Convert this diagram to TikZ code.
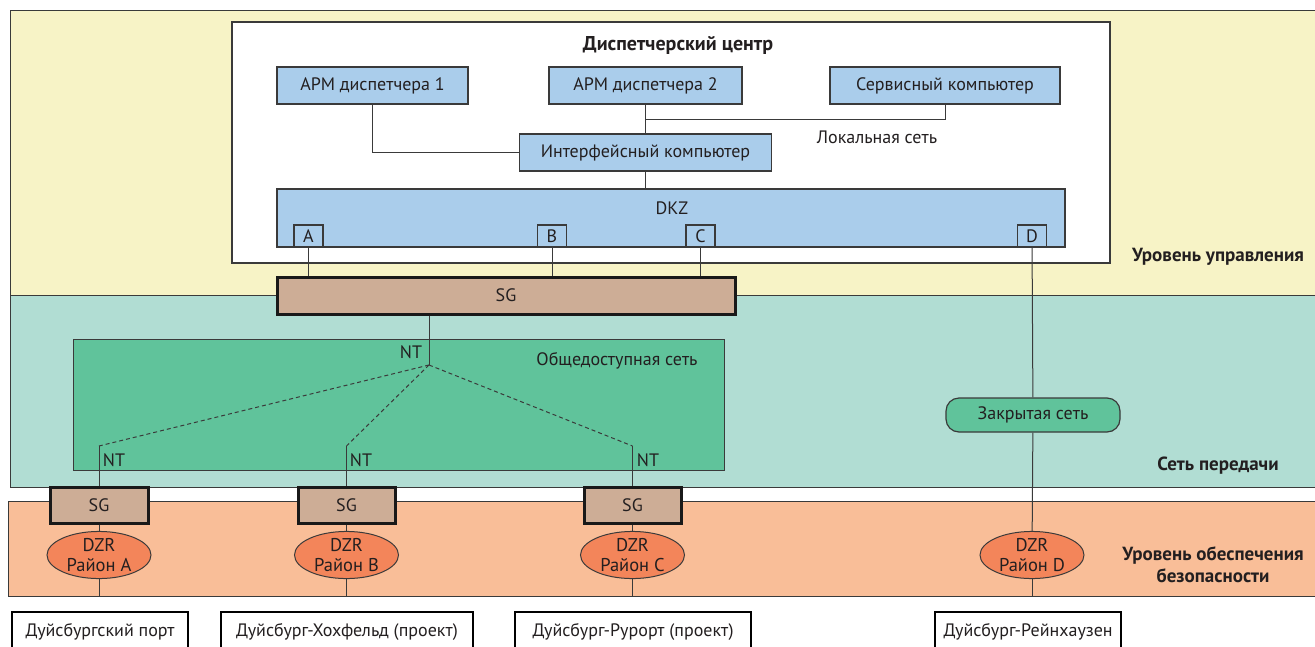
\documentclass[tikz,border=0pt]{standalone}
\usepackage{fontspec}
\setmainfont{PT Sans}
\usetikzlibrary{shapes.geometric}

\definecolor{yellowband}{HTML}{F7F3C6}
\definecolor{tealband}{HTML}{B1DDD3}
\definecolor{orangeband}{HTML}{F9BE98}
\definecolor{boxblue}{HTML}{AACDEB}
\definecolor{sgbrown}{HTML}{CDAD96}
\definecolor{netgreen}{HTML}{60C39B}
\definecolor{dzrorange}{HTML}{F3855A}
\definecolor{linegray}{HTML}{3A3A3A}
\definecolor{textgray}{HTML}{231F20}

\begin{document}
\begin{tikzpicture}[x=1pt,y=-1pt,text=textgray,font=\fontsize{18}{20}\selectfont,
  wire/.style={draw=linegray,line width=1pt},
  band/.style={draw=linegray,line width=1pt},
  pc node/.style={draw=linegray,fill=boxblue,line width=1.2pt,minimum height=37pt,inner sep=0pt},
  port node/.style={draw=linegray,fill=boxblue,line width=1.2pt,minimum width=29pt,minimum height=22pt,inner sep=0pt},
  sg node/.style={draw=black!90,fill=sgbrown,line width=3pt,inner sep=0pt},
  dzr node/.style={ellipse,draw=linegray,fill=dzrorange,line width=1pt,minimum width=104pt,minimum height=44pt,inner sep=0pt,align=center,font=\fontsize{18.5}{20}\selectfont},
  site node/.style={draw=black,line width=2.2pt,fill=white,minimum height=40pt,inner sep=0pt,anchor=north west},
  level/.style={font=\fontsize{19}{22}\selectfont\bfseries,align=center}]

  \useasboundingbox (0,0) rectangle (1315,646);
  \clip (0,0) rectangle (1315,646);

  % levels
  \draw[band,fill=yellowband] (10,10) rectangle (1330,295);
  \draw[band,fill=tealband] (10,295) rectangle (1330,487);
  \draw[band,fill=orangeband] (8,501) rectangle (1330,596);
  \coordinate (secbot) at (0,596);

  \node[level] (lvlctrl) at (1218,257) {Уровень управления};
  \node[level] (lvlnet) at (1218,466) {Сеть передачи};
  \node[level] (lvlsafe) at (1213,565) {Уровень обеспечения\\безопасности};

  % control centre
  \node[draw=linegray,fill=white,line width=1.2pt,minimum width=878pt,minimum height=241pt] (centre) at (671,142.5) {};
  \node[font=\fontsize{20}{22}\selectfont\bfseries] (title) at (678,45) {Диспетчерский центр};

  \node[pc node,minimum width=191pt] (apm1) at (372.5,85.5) {АРМ диспетчера 1};
  \node[pc node,minimum width=193pt] (apm2) at (645.5,85.5) {АРМ диспетчера 2};
  \node[pc node,minimum width=230pt] (service) at (945,85.5) {Сервисный компьютер};
  \node[pc node,minimum width=252pt] (iface) at (645.5,152.5) {Интерфейсный компьютер};
  \node (lanlabel) at (877,137) {Локальная сеть};
  \coordinate (lan) at (645.5,119);

  \node[pc node,minimum width=788pt,minimum height=58pt] (dkz) at (671,218) {};
  \node (dkzlabel) at (672,208) {DKZ};
  \node[port node] (portA) at (308.5,236) {A};
  \node[port node] (portB) at (552,236) {B};
  \node[port node] (portC) at (700.5,236) {C};
  \node[port node] (portD) at (1032,236) {D};

  \node[sg node,minimum width=458pt,minimum height=37pt] (sg) at (506,295.5) {SG};

  % transmission network
  \node[draw=linegray,fill=netgreen,line width=1pt,minimum width=651pt,minimum height=131pt] (pubnet) at (398.5,404.5) {};
  \node (publabel) at (617,361) {Общедоступная сеть};
  \coordinate (nt) at (429,365);
  \coordinate (ntA) at (99,446);
  \coordinate (ntB) at (346.5,446);
  \coordinate (ntC) at (632.5,446);
  \node (ntlabel) at (411,352) {NT};
  \node (ntlabelA) at (114,460) {NT};
  \node (ntlabelB) at (361,460) {NT};
  \node (ntlabelC) at (648,460) {NT};

  \node[draw=linegray,fill=netgreen,line width=1.2pt,rounded corners=13pt,minimum width=174pt,minimum height=34pt] (closed) at (1033,415) {Закрытая сеть};

  % safety level
  \node[sg node,minimum width=98pt,minimum height=36pt] (sgA) at (99,505) {SG};
  \node[sg node,minimum width=97pt,minimum height=36pt] (sgB) at (346.5,505) {SG};
  \node[sg node,minimum width=97pt,minimum height=36pt] (sgC) at (632.5,505) {SG};

  \node[dzr node] (dzrA) at (99,555) {DZR\\Район A};
  \node[dzr node] (dzrB) at (346.5,555) {DZR\\Район B};
  \node[dzr node] (dzrC) at (632.5,555) {DZR\\Район C};
  \node[dzr node] (dzrD) at (1032,555) {DZR\\Район D};

  \node[site node,minimum width=176pt] (siteA) at (11,611) {Дуйсбургский порт};
  \node[site node,minimum width=252pt] (siteB) at (220,611) {Дуйсбург-Хохфельд (проект)};
  \node[site node,minimum width=236pt] (siteC) at (514,611) {Дуйсбург-Рурорт (проект)};
  \node[site node,minimum width=186pt] (siteD) at (934,611) {Дуйсбург-Рейнхаузен};

  % connections
  \draw[wire] (apm1) |- (iface);
  \draw[wire] (apm2) -- (iface);
  \draw[wire] (lan) -| (service);
  \draw[wire] (iface) -- (iface |- dkz.north);
  \foreach \p in {A,B,C}
    \draw[wire] (port\p) -- (port\p |- sg.north);
  \draw[wire] (sg.south -| nt) -- (nt);
  \foreach \s in {A,B,C} {
    \draw[wire,dash pattern=on 4pt off 3pt] (nt) -- (nt\s);
    \draw[wire] (nt\s) -- (sg\s);
  }
  \draw[wire] (portD) -- (closed) -- (dzrD);
  \foreach \s in {A,B,C} {
    \draw[wire] (sg\s) -- (dzr\s);
  }
  \foreach \s in {A,B,C,D}
    \draw[wire] (dzr\s) -- (dzr\s |- secbot);

\end{tikzpicture}
\end{document}
